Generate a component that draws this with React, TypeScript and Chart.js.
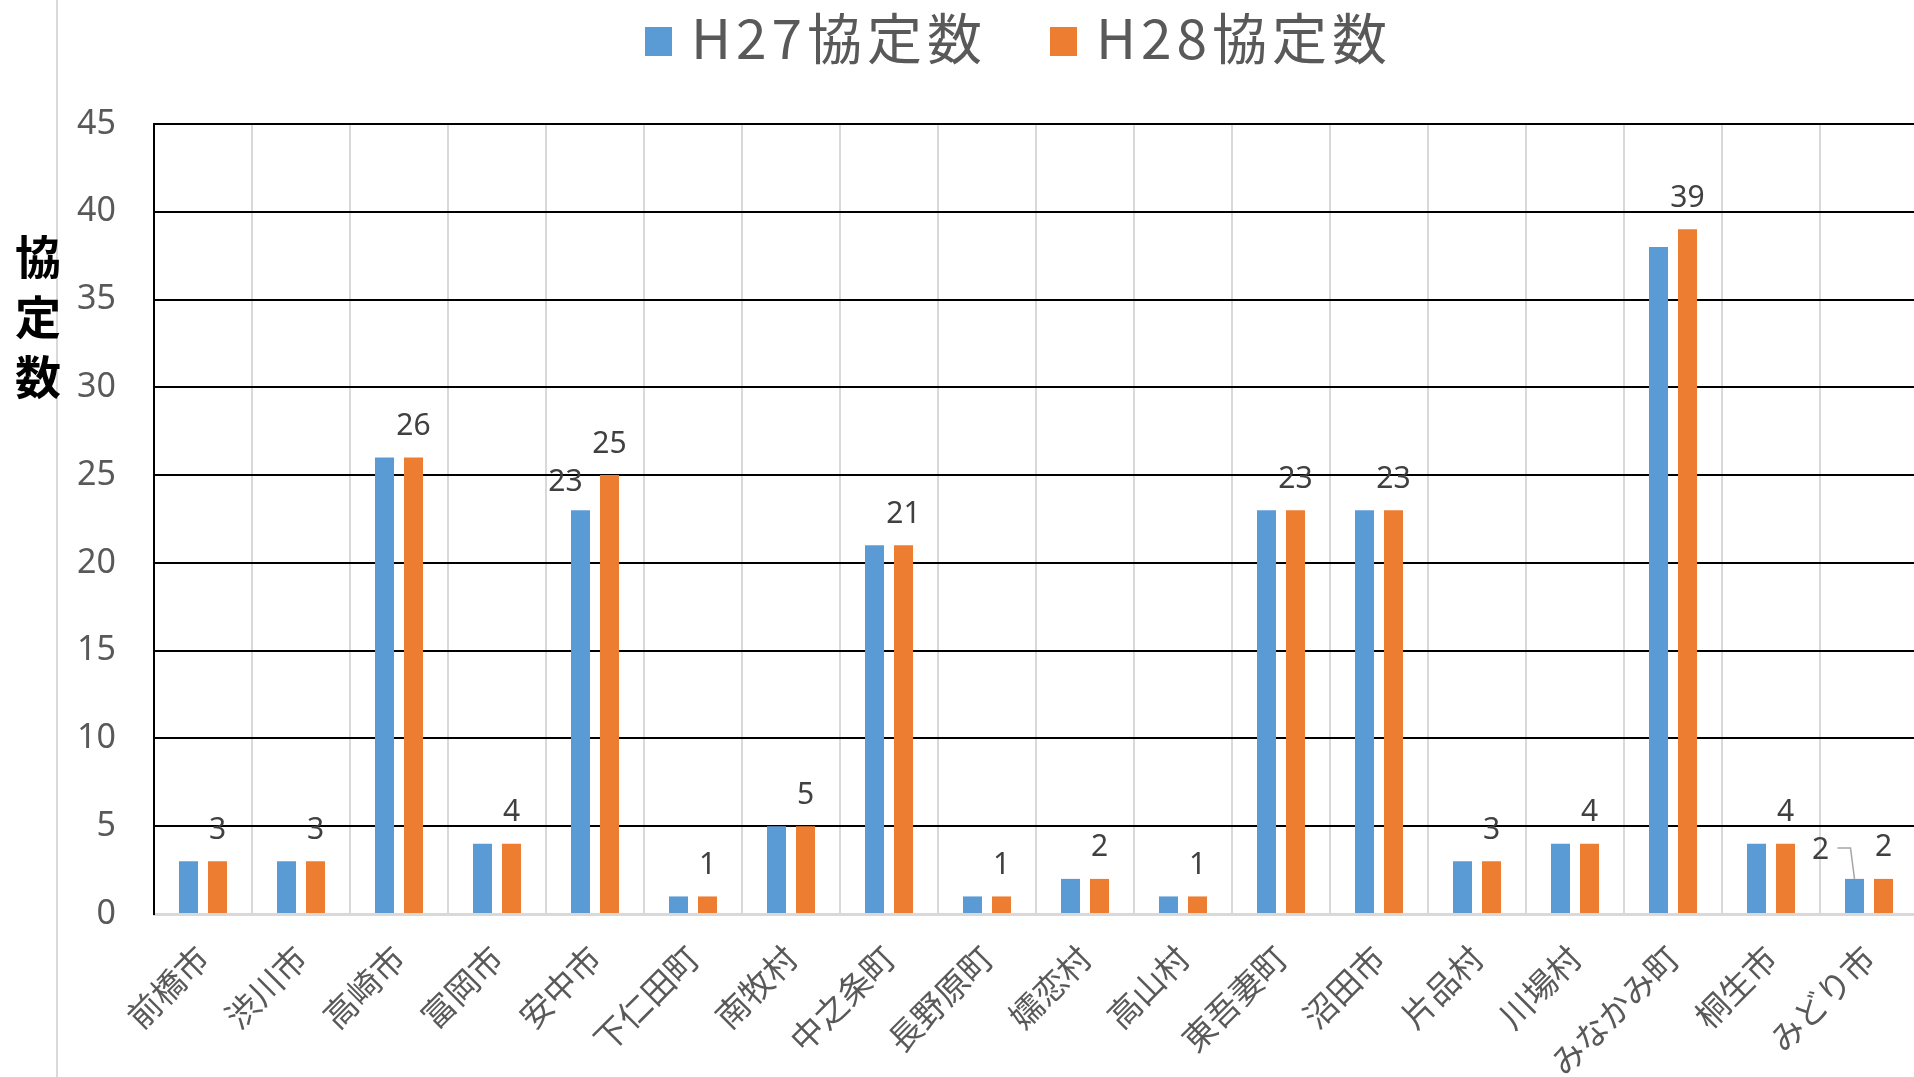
import React, { useEffect, useRef } from 'react';
import { Chart, registerables } from 'chart.js';

Chart.register(...registerables);

const categories = [
  '前橋市', '渋川市', '高崎市', '富岡市', '安中市', '下仁田町', '南牧村', '中之条町', '長野原町',
  '嬬恋村', '高山村', '東吾妻町', '沼田市', '片品村', '川場村', 'みなかみ町', '桐生市', 'みどり市',
];
const h27Values = [3, 3, 26, 4, 23, 1, 5, 21, 1, 2, 1, 23, 23, 3, 4, 38, 4, 2];
const h28Values = [3, 3, 26, 4, 25, 1, 5, 21, 1, 2, 1, 23, 23, 3, 4, 39, 4, 2];
const seriesNames = ['H27協定数', 'H28協定数'];
const seriesColors = ['#5B9BD5', '#ED7D31'];
const h27LabeledIndices = [4, 17];
const yAxisTitle = ['協', '定', '数'];
const yMin = 0;
const yMax = 45;
const yStep = 5;

const W = 1914;
const H = 1077;
const PLOT_RIGHT = 1918;

const decorPlugin = {
  id: 'decor',
  afterLayout(chart: any) {
    const x = chart.scales.x;
    if (!x) return;
    x.right = PLOT_RIGHT;
    x.width = x.right - x.left;
    x.configure();
    chart.chartArea.right = PLOT_RIGHT;
    chart.chartArea.width = PLOT_RIGHT - chart.chartArea.left;
  },
  beforeDraw(chart: any) {
    const ctx = chart.ctx;
    ctx.save();
    ctx.fillStyle = '#ffffff';
    ctx.fillRect(0, 0, W, H);
    ctx.strokeStyle = '#d9d9d9';
    ctx.lineWidth = 2;
    ctx.beginPath();
    ctx.moveTo(57, 0);
    ctx.lineTo(57, H);
    ctx.stroke();
    ctx.restore();
  },
  afterDraw(chart: any) {
    const ctx = chart.ctx;
    ctx.save();
    const legendX = [645, 1050];
    ctx.font = '55px "Noto Sans CJK JP"';
    (ctx as any).letterSpacing = '5px';
    ctx.textBaseline = 'middle';
    ctx.textAlign = 'left';
    seriesNames.forEach((name, i) => {
      ctx.fillStyle = seriesColors[i];
      ctx.fillRect(legendX[i], 27, 27, 29);
      ctx.fillStyle = '#595959';
      ctx.fillText(name, legendX[i] + 46, 38);
    });
    (ctx as any).letterSpacing = '0px';
    ctx.font = 'bold 46px "Noto Sans CJK JP"';
    ctx.fillStyle = '#000000';
    ctx.textAlign = 'center';
    yAxisTitle.forEach((ch, i) => {
      ctx.fillText(ch, 38, 257 + i * 60);
    });
    ctx.restore();
  },
  afterDatasetsDraw(chart: any) {
    const ctx = chart.ctx;
    ctx.save();
    ctx.font = '30px "Noto Sans"';
    ctx.fillStyle = '#404040';
    ctx.textAlign = 'center';
    ctx.textBaseline = 'middle';
    const m1 = chart.getDatasetMeta(1);
    m1.data.forEach((bar: any, i: number) => {
      ctx.fillText(String(h28Values[i]), bar.x, bar.y - 31);
    });
    const m0 = chart.getDatasetMeta(0);
    const offs: Record<number, number> = { 4: -15, 17: -34 };
    h27LabeledIndices.forEach((i) => {
      const bar = m0.data[i];
      const lx = bar.x + (offs[i] ?? 0);
      const ly = bar.y - 28;
      ctx.fillStyle = '#404040';
      ctx.fillText(String(h27Values[i]), lx, ly);
      if (i === 17) {
        ctx.strokeStyle = '#a6a6a6';
        ctx.lineWidth = 1.5;
        ctx.beginPath();
        ctx.moveTo(lx + 17, ly - 3);
        ctx.lineTo(bar.x - 4, ly - 3);
        ctx.lineTo(bar.x, bar.y);
        ctx.stroke();
      }
    });
    ctx.restore();
  },
};

export default function App() {
  const ref = useRef<HTMLCanvasElement | null>(null);
  useEffect(() => {
    if (!ref.current) return;
    const chart = new Chart(ref.current, {
      type: 'bar',
      data: {
        labels: categories,
        datasets: [
          {
            label: seriesNames[0],
            data: h27Values,
            backgroundColor: seriesColors[0],
            categoryPercentage: 0.592,
            barPercentage: 0.655,
          },
          {
            label: seriesNames[1],
            data: h28Values,
            backgroundColor: seriesColors[1],
            categoryPercentage: 0.592,
            barPercentage: 0.655,
          },
        ],
      },
      options: {
        responsive: false,
        animation: false,
        devicePixelRatio: 1,
        layout: { padding: { top: 124, left: 0, right: 0, bottom: 0 } },
        plugins: {
          legend: { display: false },
          tooltip: { enabled: false },
        },
        scales: {
          x: {
            afterFit: (s: any) => {
              s.height = 163;
            },
            grid: {
              color: '#d9d9d9',
              lineWidth: 2,
              offset: true,
              drawTicks: false,
            },
            border: { color: '#d9d9d9', width: 3 },
            ticks: {
              autoSkip: false,
              maxRotation: 45,
              minRotation: 45,
              padding: 24,
              color: '#595959',
              font: { family: '"Noto Sans CJK JP"', size: 33 },
            },
          },
          y: {
            min: yMin,
            max: yMax,
            afterFit: (s: any) => {
              s.width = 154;
            },
            grid: {
              color: (c: any) => (c.tick && c.tick.value === 0 ? 'rgba(0,0,0,0)' : '#000000'),
              lineWidth: 2,
              drawTicks: false,
            },
            border: { color: '#000000', width: 2 },
            ticks: {
              stepSize: yStep,
              padding: 38,
              color: '#595959',
              font: { family: '"Noto Sans"', size: 34 },
            },
          },
        },
      },
      plugins: [decorPlugin],
    });
    return () => chart.destroy();
  }, []);
  return (
    <div style={{ position: 'fixed', left: 0, top: 0, width: W, height: H, background: '#fff' }}>
      <canvas ref={ref} width={W} height={H} style={{ width: W, height: H, display: 'block' }} />
    </div>
  );
}
